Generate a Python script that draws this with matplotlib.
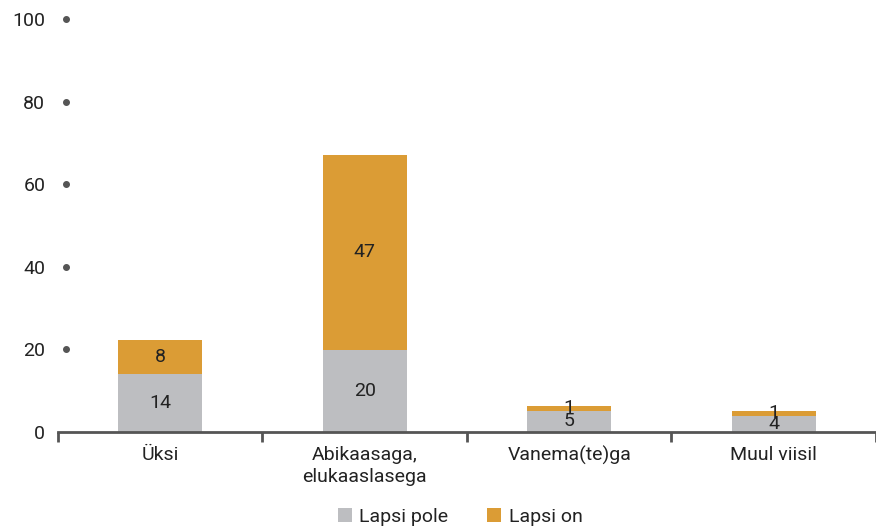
import numpy as np
import matplotlib.pyplot as plt
import matplotlib.transforms as mtransforms

categories = ['Üksi', 'Abikaasaga,\nelukaaslasega', 'Vanema(te)ga', 'Muul viisil']
lapsi_pole = [14.0, 19.9, 5.1, 3.9]
lapsi_on = [8.3, 47.2, 1.2, 1.2]
yticks = [0, 20, 40, 60, 80, 100]

gray = '#BDBEC1'
orange = '#DB9C35'
axcol = '#555555'
txtcol = '#222222'

plt.rcParams['font.family'] = ['Roboto', 'DejaVu Sans']
plt.rcParams['font.size'] = 14

fig = plt.figure(figsize=(8.76, 5.26), dpi=100)
ax = fig.add_axes([0.066, 0.179, 0.934, 0.785])

x = np.arange(len(categories))
b1 = ax.bar(x, lapsi_pole, width=0.41, color=gray, label='Lapsi pole')
b2 = ax.bar(x, lapsi_on, width=0.41, bottom=lapsi_pole, color=orange, label='Lapsi on')
ax.bar_label(b1, fmt='%.0f', label_type='center', color=txtcol, fontsize=14)
ax.bar_label(b2, fmt='%.0f', label_type='center', color=txtcol, fontsize=14)

ax.set_xlim(-0.5, 3.5)
ax.set_ylim(0, 100)

for s in ['top', 'right', 'left']:
    ax.spines[s].set_visible(False)
ax.spines['bottom'].set_color(axcol)
ax.spines['bottom'].set_linewidth(2)

# y ticks drawn as dots a bit right of the axis (none at zero)
ax.set_yticks(yticks)
ax.tick_params(axis='y', length=0, pad=9, colors=txtcol)
trans = mtransforms.blended_transform_factory(ax.transAxes, ax.transData)
ax.plot([0.0098] * (len(yticks) - 1), yticks[1:], 'o', color=axcol, markersize=4,
        transform=trans, clip_on=False)

# category labels, boundary ticks
ax.set_xticks(x)
ax.set_xticklabels(categories, color=txtcol, linespacing=1.3)
ax.tick_params(axis='x', length=0, pad=10)
ax.set_xticks(np.arange(-0.5, 4.0, 1.0), minor=True)
ax.tick_params(axis='x', which='minor', length=7, width=2, color=axcol)

ax.legend(loc='center', bbox_to_anchor=(0.492, -0.206), ncol=2, frameon=False,
          handlelength=0.7, handleheight=0.7, handletextpad=0.4, columnspacing=2.0,
          fontsize=14, labelcolor=txtcol)

fig.savefig('out.png', dpi=100)
